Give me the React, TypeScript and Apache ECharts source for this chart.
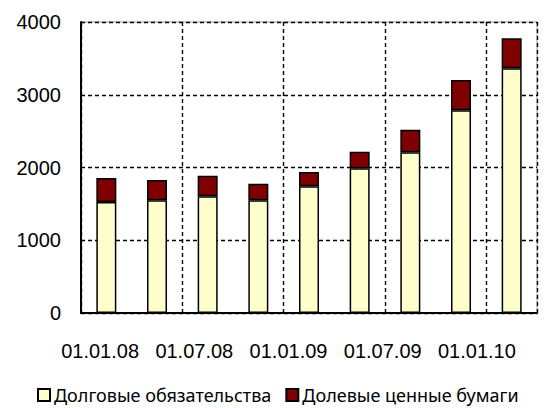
import React, { useEffect, useRef } from "react";
import * as echarts from "echarts";

const categories = [
  "01.01.08", "01.04.08", "01.07.08", "01.10.08", "01.01.09",
  "01.04.09", "01.07.09", "01.10.09", "01.01.10",
];
const tickLabels = ["01.01.08", "01.07.08", "01.01.09", "01.07.09", "01.01.10"];
const debtValues = [1526, 1549, 1604, 1549, 1741, 1989, 2208, 2786, 3363];
const equityValues = [330, 279, 284, 229, 197, 229, 312, 417, 412];
const seriesNames = ["Долговые обязательства", "Долевые ценные бумаги"];

export default function App() {
  const ref = useRef<HTMLDivElement>(null);
  useEffect(() => {
    if (!ref.current) return;
    const chart = echarts.init(ref.current, null, { renderer: "svg" });
    chart.setOption({
      animation: false,
      backgroundColor: "#ffffff",
      grid: [
        { left: 81, right: 23, top: 22, bottom: 95, show: true, borderColor: "#999999", borderWidth: 1 },
        { left: 53, right: 36, top: 22, bottom: 95 },
      ],
      legend: {
        top: 386,
        left: 37,
        icon: "rect",
        itemWidth: 12,
        itemHeight: 12,
        itemGap: 14,
        padding: 0,
        textStyle: {
          fontFamily: "Noto Sans",
          fontSize: 18,
          lineHeight: 18,
          color: "#000",
          padding: [0, 0, 0, -1],
        },
        data: seriesNames,
      },
      xAxis: [
        {
          type: "category",
          gridIndex: 0,
          data: categories,
          axisLine: { lineStyle: { color: "#000", width: 2 } },
          axisTick: { show: false },
          axisLabel: { show: false },
          splitLine: { show: true, interval: 1, lineStyle: { color: "#000", type: [4, 3], width: 1.4 } },
        },
        {
          type: "category",
          gridIndex: 1,
          data: tickLabels,
          axisLine: { show: false },
          axisTick: { show: false },
          splitLine: { show: false },
          axisLabel: { fontFamily: "Liberation Sans", fontSize: 20, color: "#000", margin: 28, interval: 0 },
        },
      ],
      yAxis: [
        {
          type: "value",
          gridIndex: 0,
          min: 0,
          max: 4000,
          interval: 1000,
          axisLine: { show: true, lineStyle: { color: "#000", width: 2 } },
          axisTick: { show: false },
          axisLabel: {
            fontFamily: "Liberation Sans",
            fontSize: 20,
            color: "#000",
            margin: 20,
            formatter: (v: number) => String(v),
          },
          splitLine: { show: true, lineStyle: { color: "#000", type: [4, 3], width: 1.4 } },
        },
        { type: "value", gridIndex: 1, show: false, min: 0, max: 4000 },
      ],
      series: [
        {
          name: seriesNames[0],
          type: "bar",
          stack: "total",
          barWidth: 20,
          data: debtValues,
          itemStyle: { color: "#FFFFCC", borderColor: "#000", borderWidth: 1.5 },
        },
        {
          name: seriesNames[1],
          type: "bar",
          stack: "total",
          barWidth: 20,
          data: equityValues,
          itemStyle: { color: "#800000", borderColor: "#000", borderWidth: 1.5 },
        },
      ],
    });
    return () => chart.dispose();
  }, []);
  return <div ref={ref} style={{ width: 560, height: 408, position: "absolute", left: 0, top: 0 }} />;
}
